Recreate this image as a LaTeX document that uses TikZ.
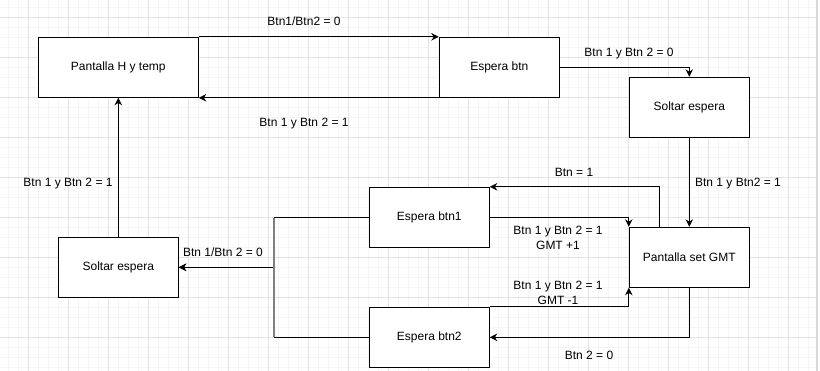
\documentclass[tikz,border=0pt]{standalone}
\usepackage{fontspec}
\setmainfont{Liberation Sans}
\usetikzlibrary{arrows.meta}

\begin{document}
\begin{tikzpicture}[
  x=1pt, y=-1pt,
  minorgrid/.style={draw=black!4, line width=0.7pt},
  majorgrid/.style={draw=black!11, line width=0.9pt},
  state/.style={draw=black, line width=1pt, fill=white, minimum width=120pt,
    minimum height=60pt, inner sep=0pt, font=\fontsize{12}{14}\selectfont},
  wide/.style={minimum width=160pt},
  arr/.style={draw=black, line width=1pt,
    -{Stealth[length=7.5pt, width=7.5pt, inset=2.4pt]}},
  lbl/.style={inner sep=0pt, font=\fontsize{12}{14}\selectfont,
    text height=8.6pt, text depth=0pt},
  lbltwo/.style={inner sep=0pt, align=center, font=\fontsize{12}{15}\selectfont},
]
% canvas and grid
\useasboundingbox (0,0) rectangle (820,371);
\fill[white] (0,0) rectangle (820,371);
\foreach \gx in {8.3,18.3,...,810} \draw[minorgrid] (\gx,0) -- (\gx,371);
\foreach \gy in {7.3,17.3,...,370} \draw[minorgrid] (0,\gy) -- (816,\gy);
\foreach \gx in {28.3,68.3,...,800} \draw[majorgrid] (\gx,0) -- (\gx,371);
\foreach \gy in {17.3,57.3,...,370} \draw[majorgrid] (0,\gy) -- (816,\gy);
\draw[draw=black!15, line width=1.5pt] (816.8,0) -- (816.8,371);

% states
\node[state, wide] (ph)  at (118.3,67.3)  {Pantalla H y temp};
\node[state] (eb)  at (499.3,67.3)  {Espera btn};
\node[state] (se1) at (689.3,107.3) {Soltar espera};
\node[state] (gmt) at (689.3,257.3) {Pantalla set GMT};
\node[state] (e1)  at (429.3,217.3) {Espera btn1};
\node[state] (e2)  at (429.3,337.3) {Espera btn2};
\node[state] (sl)  at (118.3,267.3) {Soltar espera};
\coordinate (j) at (274.3,267.3);

% transitions
\draw[arr] (ph.north east) -- (eb.north west);
\draw[arr] (eb.south west) -- (ph.south east);
\draw[arr] (eb.east) -| (se1.north);
\draw[arr] (se1.south) -- (gmt.north);
\draw[arr] ([xshift=-30pt]gmt.north) |- (e1.north east);
\draw[arr] (e1.east) -| (gmt.north west);
\draw[arr] (e2.north east) -| (gmt.south west);
\draw[arr] (gmt.south) |- (e2.east);
\draw[arr] (e1.west) -| (j) -- (sl.east);
\draw[arr] (e2.west) -| (j) -- (sl.east);
\draw[draw=black!50, line width=2pt] ([yshift=-0.5pt]e1.west -| j) -- ([yshift=0.5pt]e2.west -| j);
\draw[arr] (sl.north) -- (ph.south);

% transition labels
\node[lbl] (l1) at (304,21)  {Btn1/Btn2 = 0};
\node[lbl] (l2) at (629,52)  {Btn 1 y Btn 2 = 0};
\node[lbl] (l3) at (304,122) {Btn 1 y Btn 2 = 1};
\node[lbl] (l4) at (738,182) {Btn 1 y Btn2 = 1};
\node[lbl] (l5) at (574,172) {Btn = 1};
\node[lbltwo] (l6) at (558,237.5) {Btn 1 y Btn 2 = 1\\GMT +1};
\node[lbltwo] (l7) at (558,292.5) {Btn 1 y Btn 2 = 1\\GMT -1};
\node[lbl] (l8) at (589,355) {Btn 2 = 0};
\node[lbl] (l9) at (223,252) {Btn 1/Btn 2 = 0};
\node[lbl] (l10) at (68,182) {Btn 1 y Btn 2 = 1};
\end{tikzpicture}
\end{document}
